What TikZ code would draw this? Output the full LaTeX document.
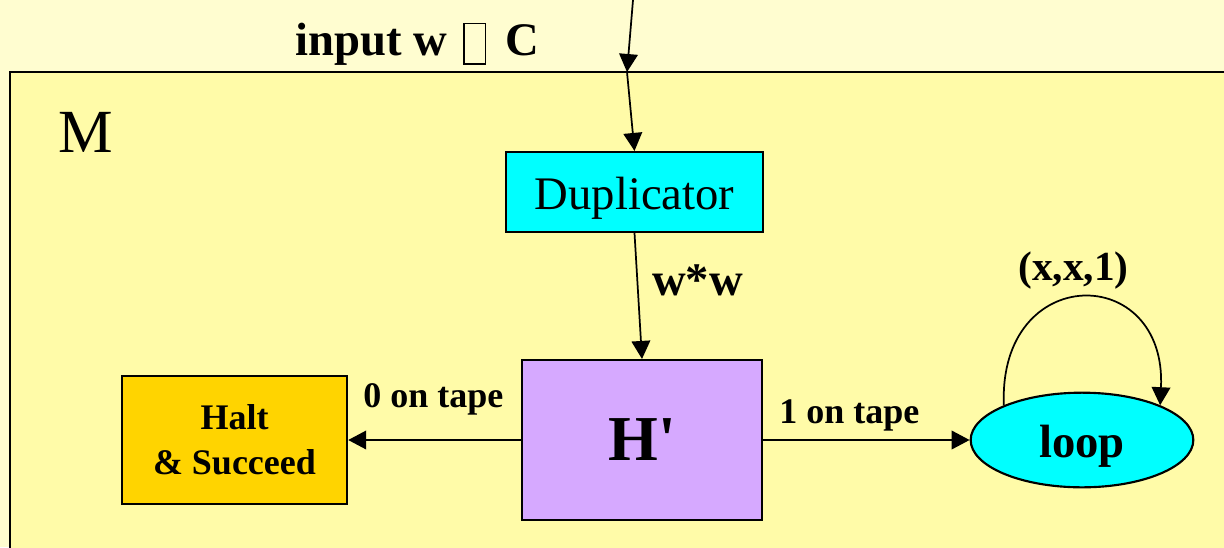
\documentclass[tikz,border=0pt]{standalone}
\usepackage{fontspec}
\setmainfont{Liberation Serif}
\usetikzlibrary{positioning,arrows.meta,calc,shapes.geometric}
\definecolor{paleyel}{HTML}{FFFDD0}
\definecolor{frameyel}{HTML}{FFFBA8}
\definecolor{dupcyan}{HTML}{00FFFF}
\definecolor{hlilac}{HTML}{D6A9FF}
\definecolor{haltgold}{HTML}{FFD400}
\newcommand{\tofu}{\raisebox{-6pt}{\setlength{\fboxsep}{0pt}\setlength{\fboxrule}{1.3pt}\fbox{\rule{0pt}{29pt}\hspace{15pt}}}}
\newcommand{\sinktext}[1]{\raisebox{-4.5pt}[\height][\depth]{#1}}

\begin{document}
\begin{tikzpicture}[
  x=0.75pt, y=-0.75pt,
  box/.style={draw=black, line width=1.6pt, inner sep=0pt, align=center},
  oval/.style={ellipse, draw=black, line width=1.6pt, inner sep=0pt,
               fill=dupcyan},
  lbl/.style={inner sep=0pt, anchor=base west},
  arr/.style={-{Triangle[length=13.5pt, width=14pt]}, line width=1.3pt},
]
% ---- page and frame ----
\fill[paleyel] (0,0) rectangle (1224,547);
\useasboundingbox (0,0) rectangle (1224,547);
\clip (0,0) rectangle (1224,547);
\draw[fill=frameyel, line width=1.6pt] (10,72) rectangle (1240,560);
\node[lbl, font=\fontsize{46}{50}\selectfont] (m) at (58,152) {M};

% ---- machine parts ----
\node[box, fill=dupcyan, minimum width=193pt, minimum height=60pt,
      font=\fontsize{35}{40}\selectfont] (dup) at (634.5,192)
  {\sinktext{Duplicator}};
\node[box, fill=hlilac, minimum width=180pt, minimum height=120pt,
      font=\fontsize{48}{52}\selectfont\bfseries] (hp) at (642,440)
  {H\textquotesingle};
\node[box, fill=haltgold, minimum width=169pt, minimum height=96pt,
      font=\fontsize{27}{34}\selectfont\bfseries] (halt) at (234.5,440)
  {Halt\\ \& Succeed};
\node[oval, minimum width=167pt, minimum height=71pt,
      font=\fontsize{35}{40}\selectfont\bfseries] (lp) at (1082,440)
  {\sinktext{loop}};

% ---- input ----
\coordinate (src) at (633,0);
\coordinate (entry) at (627,72);
\node[lbl, font=\fontsize{35}{40}\selectfont\bfseries] (inp) at (295,55)
  {input w\hspace{12pt}\tofu\hspace{14pt}C};
\draw[arr] (src) -- (entry);
\draw[arr] (entry) -- (dup.north);

% ---- connections ----
\draw[arr] (dup.south) -- (hp.north);
\node[lbl, font=\fontsize{35}{40}\selectfont\bfseries] (ww) at (652,295) {w*w};
\draw[arr] (hp.west) -- (halt.east);
\node[lbl, font=\fontsize{27}{32}\selectfont\bfseries] (zero) at (363,407)
  {0 on tape};
\draw[arr] (hp.east) -- (lp.west);
\node[lbl, font=\fontsize{27}{32}\selectfont\bfseries] (one) at (779,423)
  {1 on tape};

% ---- self loop ----
\draw[arr] (lp.156) .. controls (998,262) and (1167,262) .. (lp.24);
\node[lbl, font=\fontsize{31}{36}\selectfont\bfseries] (xx1) at (1018,280)
  {(x,x,1)};
\end{tikzpicture}
\end{document}
